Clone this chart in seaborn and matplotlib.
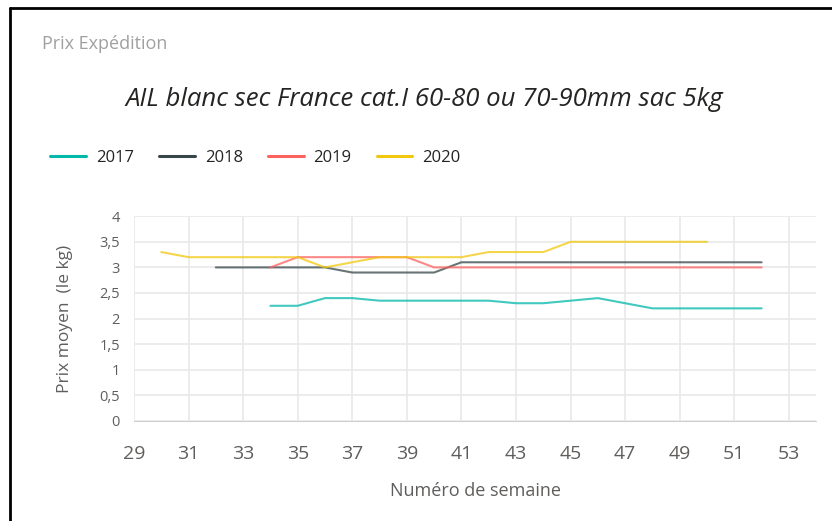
import matplotlib.pyplot as plt
import matplotlib.ticker as mticker
import pandas as pd
import seaborn as sns

# semaines et prix moyens (€/kg)
semaines_2017 = [34, 35, 36, 37, 38, 39, 40, 41, 42, 43, 44, 45, 46, 47, 48, 49, 50, 51, 52]
prix_2017 = [2.25, 2.25, 2.4, 2.4, 2.35, 2.35, 2.35, 2.35, 2.35, 2.3, 2.3, 2.35, 2.4, 2.3, 2.2, 2.2, 2.2, 2.2, 2.2]

semaines_2018 = [32, 33, 34, 35, 36, 37, 38, 39, 40, 41, 42, 43, 44, 45, 46, 47, 48, 49, 50, 51, 52]
prix_2018 = [3.0, 3.0, 3.0, 3.0, 3.0, 2.9, 2.9, 2.9, 2.9, 3.1, 3.1, 3.1, 3.1, 3.1, 3.1, 3.1, 3.1, 3.1, 3.1, 3.1, 3.1]

semaines_2019 = [34, 35, 36, 37, 38, 39, 40, 41, 42, 43, 44, 45, 46, 47, 48, 49, 50, 51, 52]
prix_2019 = [3.0, 3.2, 3.2, 3.2, 3.2, 3.2, 3.0, 3.0, 3.0, 3.0, 3.0, 3.0, 3.0, 3.0, 3.0, 3.0, 3.0, 3.0, 3.0]

semaines_2020 = [30, 31, 32, 33, 34, 35, 36, 37, 38, 39, 40, 41, 42, 43, 44, 45, 46, 47, 48, 49, 50]
prix_2020 = [3.3, 3.2, 3.2, 3.2, 3.2, 3.2, 3.0, 3.1, 3.2, 3.2, 3.2, 3.2, 3.3, 3.3, 3.3, 3.5, 3.5, 3.5, 3.5, 3.5, 3.5]

annees = ["2017", "2018", "2019", "2020"]
couleurs = ["#01B8AA", "#374649", "#FD625E", "#F2C80F"]

frames = []
for an, sem, prix in zip(annees,
                         [semaines_2017, semaines_2018, semaines_2019, semaines_2020],
                         [prix_2017, prix_2018, prix_2019, prix_2020]):
    frames.append(pd.DataFrame({"semaine": sem, "prix": prix, "annee": an}))
df = pd.concat(frames, ignore_index=True)

sns.set_style("white")
plt.rcParams["font.family"] = ["Open Sans", "DejaVu Sans"]

fig = plt.figure(figsize=(8.32, 5.21), dpi=100)
ax = fig.add_axes([0.161, 0.192, 0.820, 0.393])

sns.lineplot(data=df, x="semaine", y="prix", hue="annee", palette=couleurs,
             linewidth=1.5, alpha=0.75, ax=ax, legend=False)

ax.set_xlim(29, 54)
ax.set_ylim(0, 4)
ax.xaxis.set_major_locator(mticker.FixedLocator(list(range(29, 54, 2))))
ax.xaxis.set_minor_locator(mticker.MultipleLocator(0.4))
ax.yaxis.set_major_locator(mticker.MultipleLocator(0.5))
ax.yaxis.set_major_formatter(mticker.FuncFormatter(lambda v, p: f"{v:g}".replace(".", ",")))

ax.grid(True, which="major", color="#e9e9e9", linewidth=1.2)
for s in ["top", "right", "left"]:
    ax.spines[s].set_visible(False)
ax.spines["bottom"].set_color("#d0d0d0")
ax.tick_params(axis="x", which="major", length=5, color="#d0d0d0", labelsize=14,
               labelcolor="#605E5C", pad=12)
ax.tick_params(axis="x", which="minor", length=4, color="#d0d0d0")
ax.tick_params(axis="y", length=0, labelsize=10.5, labelcolor="#605E5C", pad=10)

ax.set_xlabel("Numéro de semaine", fontsize=13, color="#605E5C", labelpad=14)
ax.set_ylabel("Prix moyen  (le kg)", fontsize=12.5, color="#605E5C", labelpad=19)

fig.text(42 / 832, 1 - 44 / 521, "Prix Expédition", fontsize=13, color="#a0a0a0",
         ha="left", va="center")
fig.text(424 / 832, 1 - 100 / 521, "AIL blanc sec France cat.I 60-80 ou 70-90mm sac 5kg",
         fontsize=18.5, style="italic", color="#252423", ha="center", va="center")

handles = [plt.Line2D([], [], color=c, linewidth=2.2) for c in couleurs]
fig.legend(handles, annees, loc="center left", bbox_to_anchor=(50 / 832, 1 - 158 / 521),
           ncol=4, frameon=False, fontsize=12, handlelength=2.15, handletextpad=0.6,
           columnspacing=1.5, borderpad=0, borderaxespad=0, labelcolor="#252423")

# cadre noir en haut et à gauche
fig.add_artist(plt.Line2D([10 / 832, 1], [1 - 8 / 521, 1 - 8 / 521], color="black", linewidth=2,
                          transform=fig.transFigure))
fig.add_artist(plt.Line2D([10 / 832, 10 / 832], [0, 1 - 8 / 521], color="black", linewidth=2,
                          transform=fig.transFigure))

fig.savefig("out.png", dpi=100)
plt.close(fig)
